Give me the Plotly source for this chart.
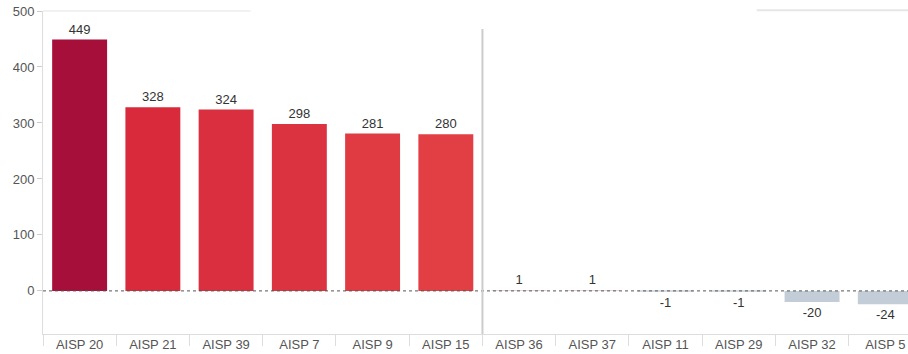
import plotly.graph_objects as go

categories = ["AISP 20", "AISP 21", "AISP 39", "AISP 7", "AISP 9", "AISP 15",
              "AISP 36", "AISP 37", "AISP 11", "AISP 29", "AISP 32", "AISP 5"]
values = [449, 328, 324, 298, 281, 280, 1, 1, -1, -1, -20, -24]
bar_colors = ["#a50f3a", "#d92a3b", "#d92f3f", "#dc3341", "#e03a43", "#e23f45",
              "#ead2d4", "#ead2d4", "#d5dce3", "#d5dce3", "#c3cdd7", "#c3cdd7"]
y_ticks = [0, 100, 200, 300, 400, 500]

FONT = "Arial, 'Liberation Sans', sans-serif"

fig = go.Figure(go.Bar(
    x=categories, y=values,
    marker=dict(color=bar_colors, line=dict(width=0)),
    width=0.75,
    text=[str(v) for v in values],
    textposition="outside",
    textfont=dict(family=FONT, size=13, color="#333333"),
    cliponaxis=False,
))

fig.update_layout(
    width=908, height=354,
    margin=dict(l=43, r=0, t=11, b=20),
    paper_bgcolor="white", plot_bgcolor="white",
    showlegend=False,
    font=dict(family=FONT, size=13, color="#555555"),
    bargap=0.25,
)

fig.update_xaxes(
    range=[-0.5, 11.31],
    showgrid=False, zeroline=False,
    showline=True, linecolor="#dddddd", linewidth=1,
    ticks="outside", tickson="boundaries", ticklen=11, tickcolor="#dddddd",
    ticklabelstandoff=-2,
    tickfont=dict(family=FONT, size=13, color="#555555"),
)
fig.update_yaxes(
    range=[-77, 500],
    tickvals=y_ticks,
    showgrid=False, zeroline=False,
    showline=True, linecolor="#dddddd", linewidth=1,
    ticks="outside", ticklen=5, tickcolor="#cccccc",
    tickfont=dict(family=FONT, size=13, color="#555555"),
)

# dotted zero line
fig.add_shape(type="line", xref="paper", yref="y", x0=0, x1=1, y0=0, y1=0,
              line=dict(color="#555555", width=1, dash="dot"), layer="above")
# separator between groups
fig.add_shape(type="line", xref="x", yref="paper", x0=5.5, x1=5.5, y0=0, y1=0.944,
              line=dict(color="#cccccc", width=2), layer="above")
# top border fragments
fig.add_shape(type="line", xref="paper", yref="paper", x0=0, x1=0.24, y0=1, y1=1,
              line=dict(color="#e3e3e3", width=1))
fig.add_shape(type="line", xref="paper", yref="paper", x0=0.825, x1=1, y0=1.002, y1=1.002,
              line=dict(color="#e6e6e6", width=2))

fig.write_html("out.html")
